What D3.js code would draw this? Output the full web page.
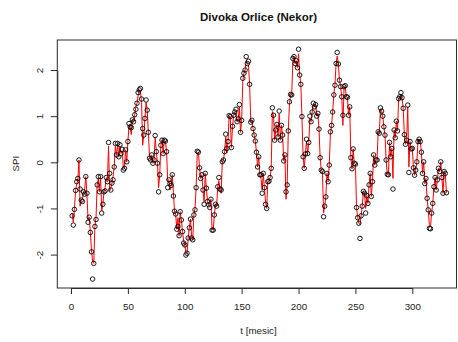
<!DOCTYPE html>
<html>
<head>
<meta charset="utf-8">
<script src="https://cdn.jsdelivr.net/npm/d3@7"></script>
<style>
  html, body { margin: 0; padding: 0; background: #fff; overflow: hidden; }
  svg { display: block; font-family: "Liberation Sans", Arial, Helvetica, sans-serif; }
</style>
</head>
<body>
<svg id="chart" width="458" height="342"></svg>
<script>
// Monthly SPI, Divoka Orlice at Nekor: observed index (circles)
const spi = [
  -1.16, -1.36, -1.02, -0.61, -0.42, -0.35, 0.05, -0.58, -0.82, -0.85,
  -0.64, -0.69, -0.31, -0.67, -1.30, -1.19, -1.52, -1.94, -2.53, -2.19,
  -1.39, -1.24, -0.49, -0.31, -0.64, -0.31, -1.10, -0.91, -0.64, -0.62,
  -0.33, -0.42, 0.43, -0.24, -0.60, -0.45, -0.38, -0.10, 0.41, 0.16,
  0.41, 0.12, 0.38, 0.19, 0.28, -0.17, -0.13, 0.27, 0.01, 0.45,
  0.84, 0.77, 0.75, 0.92, 0.88, 1.03, 1.15, 1.28, 1.51, 1.57,
  1.60, 1.37, 0.73, 0.59, 0.95, 1.35, 1.13, 0.65, 0.09, 0.05,
  0.16, -0.02, 0.05, 0.58, 0.23, -0.02, -0.64, -0.27, 0.37, 0.48,
  0.19, 0.48, 0.46, 0.23, -0.55, -0.38, -0.46, -0.50, -0.27, -0.73,
  -1.06, -1.12, -1.45, -1.39, -1.59, -1.07, -1.25, -1.50, -1.75, -1.79,
  -2.01, -1.97, -1.64, -1.42, -1.23, -1.64, -1.68, -1.14, -1.03, -0.55,
  0.24, 0.22, -0.12, -0.35, -0.27, -0.60, -0.91, -0.24, -0.56, -0.85,
  -0.92, -0.98, -0.80, -1.47, -1.47, -1.14, -0.91, -0.95, -0.53, -0.33,
  -0.58, -0.60, 0.01, 0.05, 0.23, 0.61, 0.30, 0.45, 1.01, 0.99,
  0.32, 0.78, 1.02, 1.09, 1.15, 0.88, 0.94, 1.25, 0.65, 0.91,
  1.82, 1.93, 2.00, 2.29, 2.14, 2.19, 1.69, 0.87, 0.91, 0.73,
  0.59, 0.46, 0.22, -0.10, 0.12, -0.27, -0.27, -0.67, -0.24, -0.55,
  -0.91, -1.00, -0.42, -0.41, -0.33, -0.13, 1.18, 1.02, 0.48, 0.70,
  0.82, 0.55, 1.11, 0.48, 0.80, 0.59, 0.03, 0.16, -0.64, -0.49,
  0.68, 1.31, 1.47, 1.46, 2.25, 2.29, 2.14, 2.20, 2.05, 2.45,
  1.89, 1.69, 0.99, 0.12, -0.13, 0.18, 0.50, 0.19, 0.43, 1.00,
  0.88, 1.09, 1.28, 1.20, 1.25, 1.00, 1.06, 0.72, 0.10, -0.17,
  -0.20, -1.18, -0.95, -0.75, -0.24, -0.42, -0.06, 0.66, 0.80, 1.09,
  1.46, 1.67, 2.14, 2.38, 2.13, 1.78, 1.64, 1.42, 1.02, 1.64,
  1.66, 1.42, 1.41, 1.02, 1.20, 0.10, -0.14, 0.29, -0.02, -0.04,
  -0.98, -1.20, -1.32, -1.65, -1.16, -0.95, -0.63, -0.67, -1.10, -0.72,
  -0.89, -0.49, -0.24, -0.74, -0.42, 0.16, -0.06, 0.05, 0.05, 0.66,
  0.63, 1.18, 1.11, 1.00, 0.77, 0.59, 0.05, -0.26, -0.27, 0.43,
  0.12, 0.30, -0.58, 0.70, 0.53, 0.89, 0.68, 1.38, 1.42, 1.51,
  1.40, 1.17, 0.60, 0.39, 0.48, 1.24, -0.22, 0.45, 0.29, 0.30,
  -0.12, -0.28, -0.17, 0.01, 0.45, 0.50, 0.45, 0.22, -0.24, 0.01,
  -0.46, -0.35, -0.78, -1.03, -1.43, -1.44, -1.10, -0.89, -0.53, -0.33,
  -0.60, -0.38, -0.13, -0.20, 0.01, -0.33, -0.67, -0.20, -0.24, -0.66
];

// Modelled SPI (red line)
const spiModel = [
  -1.10, -1.30, -1.02, -0.61, -0.48, -0.40, 0.05, -0.95, -0.82, -0.80,
  -0.64, -0.60, -0.31, -0.70, -1.25, -1.19, -1.50, -1.90, -2.15, -2.19,
  -1.39, -1.20, -0.49, -0.35, -0.64, -0.31, -1.05, -0.91, -0.64, -0.55,
  -0.33, -0.42, 0.35, -0.62, -0.55, -0.45, -0.30, -0.10, 0.35, 0.16,
  0.38, 0.12, 0.35, 0.19, 0.25, -0.10, -0.13, 0.27, 0.01, 0.45,
  0.80, 0.77, 0.60, 0.92, 0.88, 1.03, 1.20, 1.28, 1.45, 1.57,
  1.55, 1.30, 0.37, 0.59, 0.95, 1.30, 1.13, 0.65, 0.12, 0.05,
  0.16, -0.02, 0.05, 0.55, 0.23, -0.02, -0.55, -0.27, 0.37, 0.48,
  0.19, 0.45, 0.46, 0.23, -0.40, -0.38, -0.60, -0.50, -0.27, -0.65,
  -1.06, -1.12, -1.45, -1.20, -1.59, -1.07, -1.25, -1.50, -1.70, -1.79,
  -1.95, -1.97, -1.64, -1.42, -1.23, -1.60, -1.68, -1.14, -1.00, -0.55,
  0.20, 0.22, -0.12, -0.35, -0.27, -0.60, -0.85, -0.24, -0.56, -0.85,
  -0.92, -0.90, -0.80, -1.45, -1.47, -1.14, -0.91, -0.95, -0.53, -0.40,
  -0.58, -0.67, 0.01, 0.05, 0.23, 0.55, 0.20, 0.45, 1.01, 0.95,
  0.32, 0.78, 1.02, 1.09, 1.10, 0.88, 0.94, 1.20, 0.65, 0.91,
  1.75, 1.93, 2.00, 2.20, 2.14, 2.10, 1.69, 0.87, 0.91, 0.73,
  0.59, 0.46, 0.22, -0.10, 0.12, -0.27, -0.35, -0.60, -0.24, -0.55,
  -0.85, -1.00, -0.42, -0.41, -0.33, -0.13, 1.10, 1.02, 0.48, 0.70,
  0.82, 0.55, 1.05, 0.48, 0.80, 0.59, 0.03, 0.16, -0.80, -0.49,
  0.68, 1.25, 1.47, 1.46, 2.20, 2.29, 2.14, 2.20, 2.05, 2.35,
  1.89, 1.69, 0.99, 0.12, -0.13, 0.18, 0.45, 0.19, 0.43, 0.95,
  0.88, 1.09, 1.25, 1.20, 1.25, 1.00, 1.06, 0.72, 0.10, -0.17,
  -0.20, -1.10, -0.95, -0.75, -0.24, -0.42, -0.06, 0.60, 0.80, 1.09,
  1.46, 1.67, 2.14, 2.30, 2.13, 1.78, 1.64, 1.42, 0.80, 1.60,
  1.66, 1.42, 1.41, 1.02, 1.20, 0.10, -0.14, 0.29, -0.02, -0.04,
  -0.98, -1.20, -1.32, -1.35, -1.16, -0.95, -0.63, -0.67, -1.00, -0.72,
  -0.89, -0.49, -0.24, -0.74, -0.42, 0.16, -0.06, 0.05, 0.05, 0.66,
  0.63, 1.15, 1.11, 1.00, 0.77, 0.59, 0.05, -0.26, -0.27, 0.43,
  0.12, 0.30, -0.35, 0.70, 0.53, 0.89, 0.68, 1.38, 1.42, 1.48,
  1.40, 1.17, 0.60, 0.39, 0.48, 1.20, -0.10, 0.45, 0.29, 0.30,
  -0.12, -0.28, -0.17, 0.01, 0.45, 0.50, 0.45, 0.22, -0.24, 0.01,
  -0.46, -0.35, -0.78, -1.03, -1.35, -1.40, -1.10, -0.89, -0.53, -0.33,
  -0.60, -0.38, -0.13, -0.20, 0.01, -0.33, -0.67, -0.20, -0.24, -0.66
];

const xTicks = [0, 50, 100, 150, 200, 250, 300];
const yTicks = [-2, -1, 0, 1, 2];
const titleText = "Divoka Orlice (Nekor)";
const xLabel = "t [mesic]";
const yLabel = "SPI";

const svg = d3.select("#chart");

// plotting region
const box = { left: 57.3, right: 456.5, top: 40, bottom: 288 };
const midX = 258.5;

const x = d3.scaleLinear().domain([0, 300]).range([71, 412.3]);
const y = d3.scaleLinear().domain([0, 2]).range([162.3, 70]);

const months = spi.map((_, i) => i + 1);

// frame
svg.append("rect")
  .attr("x", box.left).attr("y", box.top)
  .attr("width", box.right - box.left).attr("height", box.bottom - box.top)
  .attr("fill", "none").attr("stroke", "#2a2a2a").attr("stroke-width", 1);

// x axis
const gx = svg.append("g")
  .attr("transform", `translate(0,${box.bottom})`)
  .call(d3.axisBottom(x).tickValues(xTicks).tickSize(6).tickSizeOuter(0).tickPadding(9.2));
gx.select(".domain").attr("stroke", "#2a2a2a");
gx.selectAll(".tick line").attr("stroke", "#2a2a2a");
gx.selectAll(".tick text")
  .attr("font-family", "Liberation Sans, Arial, sans-serif")
  .attr("font-size", 9.8).attr("fill", "#222");

// y axis, labels parallel to the axis
const gy = svg.append("g")
  .attr("transform", `translate(${box.left},0)`)
  .call(d3.axisLeft(y).tickValues(yTicks).tickSize(6.5).tickSizeOuter(0));
gy.select(".domain").attr("stroke", "#2a2a2a");
gy.selectAll(".tick line").attr("stroke", "#2a2a2a");
gy.selectAll(".tick text")
  .attr("font-family", "Liberation Sans, Arial, sans-serif")
  .attr("font-size", 9.8).attr("fill", "#222")
  .attr("transform", "rotate(-90)")
  .attr("text-anchor", "middle")
  .attr("x", 0).attr("y", -14.5).attr("dy", 0)
  .text(d => String(d));

// modelled series
const line = d3.line()
  .x((d, i) => x(months[i]))
  .y(d => y(d));

svg.append("path")
  .datum(spiModel)
  .attr("d", line)
  .attr("fill", "none")
  .attr("stroke", "#ff0000")
  .attr("stroke-width", 1)
  .attr("stroke-linejoin", "round");

// observed series
svg.append("g")
  .selectAll("circle")
  .data(spi)
  .join("circle")
  .attr("cx", (d, i) => x(months[i]))
  .attr("cy", d => y(d))
  .attr("r", 2.25)
  .attr("fill", "none")
  .attr("stroke", "#000")
  .attr("stroke-width", 0.9);

// titles
svg.append("text")
  .attr("x", midX).attr("y", 20.7)
  .attr("text-anchor", "middle")
  .attr("font-size", 11.5).attr("font-weight", "bold").attr("fill", "#111")
  .text(titleText);

svg.append("text")
  .attr("x", midX).attr("y", 333.5)
  .attr("text-anchor", "middle")
  .attr("font-size", 9.8).attr("fill", "#222")
  .text(xLabel);

svg.append("text")
  .attr("transform", `translate(19.2,163.7) rotate(-90)`)
  .attr("text-anchor", "middle")
  .attr("font-size", 9.7).attr("fill", "#222")
  .text(yLabel);
</script>
</body>
</html>
